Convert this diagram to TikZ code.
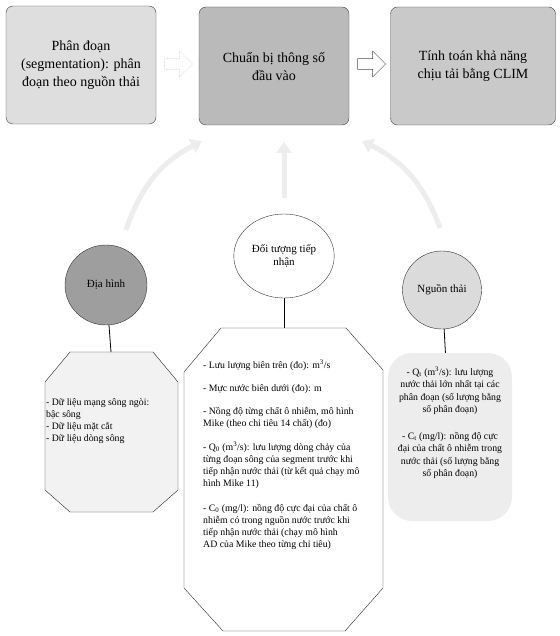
\documentclass[tikz,border=0pt]{standalone}
\usepackage{fontspec}
\setmainfont{Liberation Serif}
\usetikzlibrary{shapes.arrows,shapes.geometric,arrows.meta}

\tikzset{
  topbox/.style={draw=black!75, rounded corners=7pt, minimum width=150pt, minimum height=118pt,
    align=center, font=\fontsize{14}{18}\selectfont},
  blob/.style={ellipse, draw=black!80, font=\fontsize{11}{13}\selectfont, align=center},
  infotext/.style={font=\fontsize{9.8}{12}\selectfont, align=left, inner sep=0pt},
  hollowarrow/.style={single arrow, minimum height=28pt, minimum width=26pt,
    single arrow head extend=5pt, fill=white},
  upflow/.style={line width=5pt, draw=black!7, -{Triangle[width=15pt,length=11pt]}},
}

\begin{document}
\begin{tikzpicture}[x=1pt,y=-1pt]
		%%%%% START %%%%%
		\useasboundingbox (0,0) rectangle (559,636);
		
		% top row
		\node[topbox, fill=black!13] (seg) at (81,65) {Phân đoạn\\(segmentation): phân\\đoạn theo nguồn thải};
		\node[topbox, fill=black!27] (prep) at (274,66) {Chuẩn bị thông số\\đầu vào};
		\node[topbox, fill=black!21, minimum width=165pt] (clim) at (473,66) {Tính toán khả năng\\chịu tải bằng CLIM};
		
		\node[hollowarrow, draw=black!35, densely dotted] (arrA) at (176,64) {};
		\node[hollowarrow, draw=black!70] (arrB) at (369,64) {};
		
		% inputs
		\node[blob, fill=black!38, minimum width=82pt, minimum height=80pt] (terrain) at (106,285) {Địa hình};
		\node[blob, fill=white, minimum width=100pt, minimum height=84pt] (recv) at (284,256) {Đối tượng tiếp\\nhận};
		\node[blob, fill=black!14, minimum width=78pt, minimum height=78pt] (source) at (442,290) {Nguồn thải};
		
		\coordinate (terrainup) at (126,230);
		\coordinate (recvup) at (284,198);
		\coordinate (sourceup) at (440,228);
		\coordinate (seamL) at (202,141);
		\coordinate (seamM) at (284,142);
		\coordinate (seamR) at (362,141);
		\draw[upflow] (terrainup) to[bend left=22] (seamL);
		\draw[upflow] (recvup) -- (seamM);
		\draw[upflow] (sourceup) to[bend right=22] (seamR);
		
		% details
		\draw[draw=black!85, fill=black!5] (70,352) -- (153,352) -- (178,382) -- (178,490) -- (153,512)
		  -- (70,512) -- (45,490) -- (45,382) -- cycle;
		\coordinate (terraintop) at (111,352);
		\node[infotext, anchor=north west] (terraininfo) at (46,398)
		  {- Dữ liệu mạng sông ngòi:\\bậc sông\\- Dữ liệu mặt cắt\\- Dữ liệu dòng sông};
		
		\draw[draw=black!85, fill=white] (221,328) -- (346,328) -- (383,370) -- (383,588) -- (345,631)
		  -- (223,631) -- (184,588) -- (184,372) -- cycle;
		\coordinate (recvtop) at (284,328);
		\node[infotext, anchor=north west] (recvinfo) at (203,360)
		  {- Lưu lượng biên trên (đo): m\textsuperscript{3}/s\\[11pt]
		   - Mực nước biên dưới (đo): m\\[11pt]
		   - Nồng độ từng chất ô nhiễm, mô hình\\Mike (theo chỉ tiêu 14 chất) (đo)\\[12pt]
		   - Q\textsubscript{0} (m\textsuperscript{3}/s): lưu lượng dòng chảy của\\từng đoạn sông của segment trước khi\\tiếp nhận nước thải (từ kết quả chạy mô\\hình Mike 11)\\[13pt]
		   - C\textsubscript{0} (mg/l): nồng độ cực đại của chất ô\\nhiễm có trong nguồn nước trước khi\\tiếp nhận nước thải (chạy mô hình\\AD của Mike theo từng chỉ tiêu)};
		
		\node[rounded corners=24pt, fill=black!7, minimum width=124pt, minimum height=168pt] (sourceinfo) at (450,437) {};
		\node[font=\fontsize{9.8}{12.5}\selectfont, align=center, inner sep=0pt] (sourcetext) at (450,423)
		  {- Q\textsubscript{t} (m\textsuperscript{3}/s): lưu lượng\\nước thải lớn nhất tại các\\phân đoạn (số lượng bằng\\số phân đoạn)\\[14pt]
		   - C\textsubscript{t} (mg/l): nồng độ cực\\đại của chất ô nhiễm trong\\nước thải (số lượng bằng\\số phân đoạn)};
		
		\draw[thick] (terrain) -- (terraintop);
		\draw[thick] (recv) -- (recvtop);
		\draw[thick] (source) -- (sourceinfo);
		%%%%% END %%%%%
	\end{tikzpicture}
\end{document}
